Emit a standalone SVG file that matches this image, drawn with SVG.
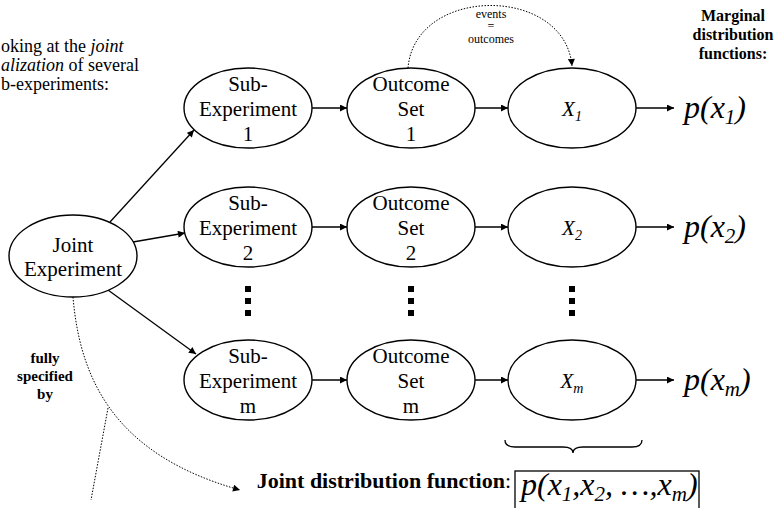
<svg xmlns="http://www.w3.org/2000/svg" width="775" height="508" viewBox="0 0 775 508" font-family="'Liberation Serif', 'Times New Roman', serif">
<defs>
<style>
.n{font-size:21px;text-anchor:middle}
.e{fill:#fff;stroke:#000;stroke-width:1.4}
.c{fill:none;stroke:#000;stroke-width:1.3}
.d{fill:none;stroke:#000;stroke-width:1;stroke-dasharray:1.5 1.5}
.xl{font-size:21px;font-style:italic;text-anchor:middle}
.pl{font-size:32px;font-style:italic}
.b{font-weight:bold}
</style>
<marker id="ah" viewBox="0 0 10 10" refX="10" refY="5" markerWidth="8" markerHeight="7" markerUnits="userSpaceOnUse" orient="auto">
<path d="M0,0 L10,5 L0,10 z" fill="#000"/>
</marker>
</defs>
<rect width="775" height="508" fill="#fff"/>

<g id="intro" font-family="Liberation Serif">
<text x="1" y="52" font-size="18">oking at the <tspan font-style="italic">joint</tspan></text>
<text x="1" y="71" font-size="18"><tspan font-style="italic">alization</tspan> of several</text>
<text x="1" y="90" font-size="18">b-experiments:</text>
</g>

<g id="marginal-title" font-family="Liberation Serif">
<text class="b" x="733" y="21" font-size="16" text-anchor="middle">Marginal</text>
<text class="b" x="733" y="40" font-size="16" text-anchor="middle">distribution</text>
<text class="b" x="733" y="59" font-size="16" text-anchor="middle">functions:</text>
</g>

<g id="events-label" font-family="Liberation Serif">
<text x="491" y="18" font-size="12" text-anchor="middle">events<tspan x="491" dy="12">=</tspan><tspan x="491" dy="13">outcomes</tspan></text>
</g>

<g id="fully" font-family="Liberation Serif">
<text class="b" x="45" y="363" font-size="15" text-anchor="middle">fully</text>
<text class="b" x="45" y="381" font-size="15" text-anchor="middle">specified</text>
<text class="b" x="45" y="399" font-size="15" text-anchor="middle">by</text>
</g>

<g id="connectors">
<line class="c" x1="110" y1="222" x2="194" y2="130" marker-end="url(#ah)"/>
<line class="c" x1="133" y1="242" x2="185" y2="233" marker-end="url(#ah)"/>
<line class="c" x1="108" y1="290" x2="196" y2="354" marker-end="url(#ah)"/>

<line class="c" x1="312" y1="108" x2="347" y2="108" marker-end="url(#ah)"/>
<line class="c" x1="475" y1="108" x2="508" y2="108" marker-end="url(#ah)"/>
<line class="c" x1="636" y1="108" x2="674" y2="108" marker-end="url(#ah)"/>

<line class="c" x1="312" y1="227" x2="347" y2="227" marker-end="url(#ah)"/>
<line class="c" x1="475" y1="227" x2="508" y2="227" marker-end="url(#ah)"/>
<line class="c" x1="636" y1="227" x2="674" y2="227" marker-end="url(#ah)"/>

<line class="c" x1="312" y1="380" x2="347" y2="380" marker-end="url(#ah)"/>
<line class="c" x1="475" y1="380" x2="508" y2="380" marker-end="url(#ah)"/>
<line class="c" x1="636" y1="380" x2="674" y2="380" marker-end="url(#ah)"/>

<path class="d" d="M408 68 C415 -15 565 -15 572 66" marker-end="url(#ah)"/>
<path class="d" d="M73 297 C80 380 115 455 240 490" marker-end="url(#ah)"/>
<path class="d" d="M108 408 L91 500"/>
</g>

<g id="joint" font-family="Liberation Serif">
<ellipse class="e" cx="73" cy="256" rx="64" ry="41"/>
<text class="n" x="73" y="252">Joint</text>
<text class="n" x="73" y="276">Experiment</text>
</g>

<g id="sub1" font-family="Liberation Serif">
<ellipse class="e" cx="248" cy="108" rx="64" ry="40"/>
<text class="n" x="248" y="91">Sub-</text>
<text class="n" x="248" y="116">Experiment</text>
<text class="n" x="248" y="141">1</text>
</g>
<g id="out1" font-family="Liberation Serif">
<ellipse class="e" cx="411" cy="108" rx="64" ry="40"/>
<text class="n" x="411" y="91">Outcome</text>
<text class="n" x="411" y="116">Set</text>
<text class="n" x="411" y="141">1</text>
</g>
<g id="x1" font-family="Liberation Serif">
<ellipse class="e" cx="572" cy="108" rx="64" ry="40"/>
<text class="xl" x="572" y="116">X<tspan font-size="14" dy="5">1</tspan></text>
</g>
<g id="p1" font-family="Liberation Serif">
<text class="pl" x="684" y="118">p(x<tspan font-size="21" dy="6">1</tspan><tspan dy="-6">)</tspan></text>
</g>

<g id="sub2" font-family="Liberation Serif">
<ellipse class="e" cx="248" cy="227" rx="64" ry="40"/>
<text class="n" x="248" y="210">Sub-</text>
<text class="n" x="248" y="235">Experiment</text>
<text class="n" x="248" y="260">2</text>
</g>
<g id="out2" font-family="Liberation Serif">
<ellipse class="e" cx="411" cy="227" rx="64" ry="40"/>
<text class="n" x="411" y="210">Outcome</text>
<text class="n" x="411" y="235">Set</text>
<text class="n" x="411" y="260">2</text>
</g>
<g id="x2" font-family="Liberation Serif">
<ellipse class="e" cx="572" cy="227" rx="64" ry="40"/>
<text class="xl" x="572" y="235">X<tspan font-size="14" dy="5">2</tspan></text>
</g>
<g id="p2" font-family="Liberation Serif">
<text class="pl" x="684" y="237">p(x<tspan font-size="21" dy="6">2</tspan><tspan dy="-6">)</tspan></text>
</g>

<g id="dots">
<rect x="245" y="286" width="6" height="6"/><rect x="245" y="298" width="6" height="6"/><rect x="245" y="310" width="6" height="6"/>
<rect x="408" y="286" width="6" height="6"/><rect x="408" y="298" width="6" height="6"/><rect x="408" y="310" width="6" height="6"/>
<rect x="569" y="286" width="6" height="6"/><rect x="569" y="298" width="6" height="6"/><rect x="569" y="310" width="6" height="6"/>
</g>

<g id="subm" font-family="Liberation Serif">
<ellipse class="e" cx="248" cy="380" rx="64" ry="40"/>
<text class="n" x="248" y="363">Sub-</text>
<text class="n" x="248" y="388">Experiment</text>
<text class="n" x="248" y="413">m</text>
</g>
<g id="outm" font-family="Liberation Serif">
<ellipse class="e" cx="411" cy="380" rx="64" ry="40"/>
<text class="n" x="411" y="363">Outcome</text>
<text class="n" x="411" y="388">Set</text>
<text class="n" x="411" y="413">m</text>
</g>
<g id="xm" font-family="Liberation Serif">
<ellipse class="e" cx="572" cy="380" rx="64" ry="40"/>
<text class="xl" x="572" y="388">X<tspan font-size="14" dy="5">m</tspan></text>
</g>
<g id="pm" font-family="Liberation Serif">
<text class="pl" x="684" y="390">p(x<tspan font-size="21" dy="6">m</tspan><tspan dy="-6">)</tspan></text>
</g>

<g id="brace">
<path class="c" d="M505 440 Q505 447 515 447 L563 447 Q573 447 573 453 Q573 447 583 447 L632 447 Q642 447 642 440"/>
</g>

<g id="joint-dist" font-family="Liberation Serif">
<text x="511" y="488" font-size="22" text-anchor="end"><tspan font-weight="bold">Joint distribution function</tspan>:</text>
<rect x="515" y="471" width="184" height="50" fill="none" stroke="#000" stroke-width="1.3"/>
<text class="pl" x="521" y="495">p(x<tspan font-size="21" dy="6">1</tspan><tspan dy="-6">,x</tspan><tspan font-size="21" dy="6">2</tspan><tspan dy="-6">, …,x</tspan><tspan font-size="21" dy="6">m</tspan><tspan dy="-6">)</tspan></text>
</g>
</svg>
